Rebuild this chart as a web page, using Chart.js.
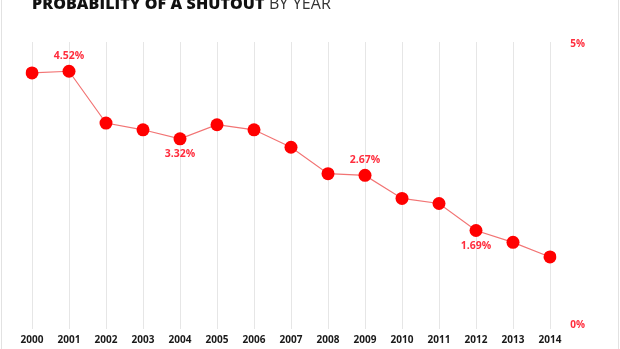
<!DOCTYPE html>
<html>
<head>
<meta charset="utf-8">
<script src="https://cdn.jsdelivr.net/npm/chart.js@4"></script>
<style>
  html, body { margin: 0; padding: 0; background: #fff; }
  #wrap { position: relative; width: 620px; height: 349px; overflow: hidden; }
  #title { position: absolute; left: 32px; top: -6px; font-family: "Open Sans", sans-serif; font-size: 16px; line-height: 18px; color: #111; white-space: nowrap; letter-spacing: 0.1px; }
  #title b { font-weight: 800; }
  #title span { font-weight: 400; color: #333; }
  #edgeL { position: absolute; left: 1px; top: 0; width: 1px; height: 349px; background: #e2e2e2; }
  #edgeR { position: absolute; left: 618px; top: 0; width: 1px; height: 349px; background: #e2e2e2; }
  canvas { position: absolute; left: 0; top: 0; }
</style>
</head>
<body>
<div id="wrap">
  <canvas id="c" width="620" height="349"></canvas>
  <div id="title"><b>PROBABILITY OF A SHUTOUT</b> <span>BY YEAR</span></div>
  <div id="edgeL"></div>
  <div id="edgeR"></div>
</div>
<script>
const years = ['2000','2001','2002','2003','2004','2005','2006','2007','2008','2009','2010','2011','2012','2013','2014'];
const shutoutPct = [4.49, 4.52, 3.60, 3.48, 3.32, 3.57, 3.48, 3.17, 2.70, 2.67, 2.26, 2.17, 1.69, 1.48, 1.22];
const labeledIdx = [1, 4, 9, 12];
const labeledPos = ['above', 'below', 'above', 'below'];
const yTicks = [0, 5];

const pointLabels = {
  id: 'pointLabels',
  afterDatasetsDraw(chart) {
    const ctx = chart.ctx;
    const meta = chart.getDatasetMeta(0);
    ctx.save();
    ctx.font = 'bold 10.5px "Open Sans", sans-serif';
    ctx.fillStyle = '#ff2d3d';
    ctx.textAlign = 'center';
    ctx.textBaseline = 'middle';
    labeledIdx.forEach((i, k) => {
      const p = meta.data[i];
      const dy = labeledPos[k] === 'above' ? -15 : 15;
      ctx.fillText(shutoutPct[i].toFixed(2) + '%', p.x, p.y + dy);
    });
    ctx.restore();
  }
};

new Chart(document.getElementById('c'), {
  type: 'line',
  data: {
    labels: years,
    datasets: [{
      data: shutoutPct,
      borderColor: '#f27474',
      borderWidth: 1.2,
      pointBackgroundColor: '#ff0000',
      pointBorderColor: '#ff0000',
      pointBorderWidth: 0,
      pointRadius: 6.5,
      tension: 0,
      fill: false
    }]
  },
  options: {
    responsive: false,
    animation: false,
    layout: { padding: { top: 42, left: 32, right: 35, bottom: 0 } },
    plugins: { legend: { display: false }, tooltip: { enabled: false } },
    scales: {
      x: {
        offset: false,
        grid: { display: true, color: '#e6e6e6', lineWidth: 1, drawTicks: false },
        border: { display: false },
        ticks: { color: '#1a1a1a', font: { family: '"Open Sans", sans-serif', size: 10, weight: 'bold' }, padding: 5, maxRotation: 0, autoSkip: false },
        afterFit(s) { s.height = 20; }
      },
      y: {
        position: 'right',
        min: -0.06,
        max: 5.04,
        grid: { display: false, drawTicks: false },
        border: { display: false },
        afterBuildTicks(s) { s.ticks = yTicks.map(v => ({ value: v })); },
        ticks: {
          color: '#ff2d3d',
          font: { family: '"Open Sans", sans-serif', size: 10, weight: 'bold' },
          padding: 0,
          crossAlign: 'far',
          callback: v => v + '%'
        },
        afterFit(s) { s.width = 35; }
      }
    }
  },
  plugins: [pointLabels]
});
</script>
</body>
</html>
